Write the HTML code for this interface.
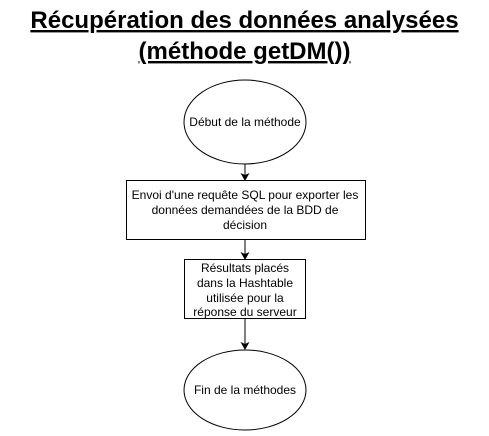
<!DOCTYPE html>
<html><head><meta charset="utf-8"><style>
body{margin:0;background:#fff;width:489px;height:431px;overflow:hidden;font-family:"Liberation Sans",Arial,sans-serif}
</style></head><body>
<svg width="489" height="431" xmlns="http://www.w3.org/2000/svg" font-family="Liberation Sans, Arial, sans-serif">
<text x="244.5" y="28" font-size="24" font-weight="bold" text-anchor="middle" text-decoration="underline">Récupération des données analysées</text>
<text x="244.5" y="59" font-size="24" font-weight="bold" text-anchor="middle" text-decoration="underline">(méthode getDM())</text>
<g fill="#fff" stroke="#000" stroke-width="1">
<ellipse cx="245" cy="122" rx="61" ry="42"/>
<rect x="126.5" y="180.5" width="239" height="59"/>
<rect x="184.5" y="259.5" width="121" height="59"/>
<ellipse cx="245" cy="390" rx="61" ry="40"/>
</g>
<g stroke="#000" stroke-width="1">
<line x1="245" y1="164" x2="245" y2="175"/>
<line x1="245" y1="240" x2="245" y2="254"/>
<line x1="245" y1="319" x2="245" y2="345"/>
</g>
<g fill="#000">
<path d="M240.5 173 L245 181 L249.5 173 L245 175 Z"/>
<path d="M240.5 252 L245 260 L249.5 252 L245 254 Z"/>
<path d="M240.5 342 L245 350 L249.5 342 L245 344 Z"/>
</g>
<g font-size="12" text-anchor="middle" fill="#000">
<text x="245" y="126">Début de la méthode</text>
<text x="245" y="199">Envoi d'une requête SQL pour exporter les</text>
<text x="245" y="214">données demandées de la BDD de</text>
<text x="245" y="229">décision</text>
<text x="245" y="272">Résultats placés</text>
<text x="245" y="287">dans la Hashtable</text>
<text x="245" y="302">utilisée pour la</text>
<text x="245" y="316">réponse du serveur</text>
<text x="245" y="394">Fin de la méthodes</text>
</g>
</svg>
</body></html>
